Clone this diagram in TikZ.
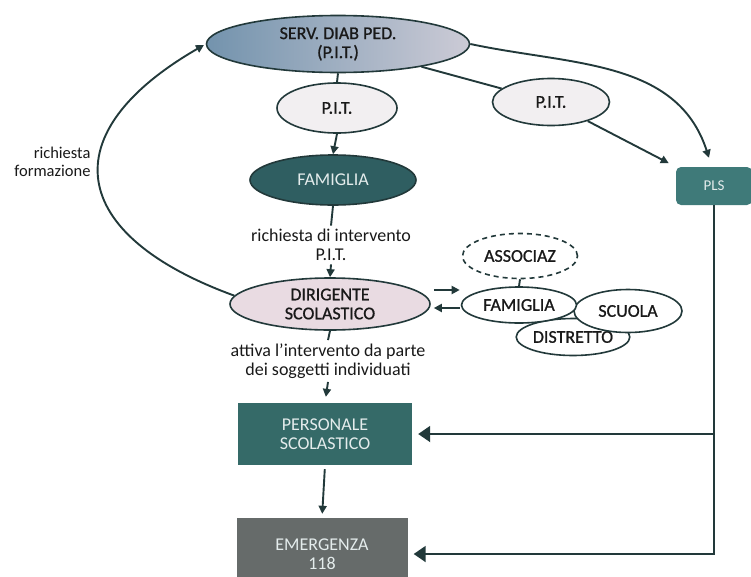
\documentclass[tikz,border=0pt]{standalone}
\usepackage{fontspec}
\setmainfont{Carlito}
\newfontfamily\heavy{Carlito}[FakeBold=0.9]
\usetikzlibrary{shapes.geometric,arrows.meta}

\definecolor{linecol}{HTML}{22393A}
\definecolor{servleft}{HTML}{7393AD}
\definecolor{servright}{HTML}{CCCBD6}
\definecolor{pitfill}{HTML}{F2EFF1}
\definecolor{famfill}{HTML}{2F5E61}
\definecolor{dirfill}{HTML}{E9DBE2}
\definecolor{persfill}{HTML}{356A68}
\definecolor{emerfill}{HTML}{666B6A}
\definecolor{plsfill}{HTML}{3F7A79}
\definecolor{boxtext}{HTML}{E4ECEC}

\begin{document}
\begin{tikzpicture}[x=1pt,y=-1pt,>={Triangle[length=8pt,width=8pt]},
  every node/.style={font=\fontsize{18}{19}\selectfont, align=center, text=black!90},
  oval/.style={ellipse, draw=linecol, line width=1.6pt, inner sep=0pt, font=\fontsize{18}{19}\selectfont\heavy},
  box/.style={rectangle, inner sep=0pt, text=boxtext},
  link/.style={draw=linecol, line width=1.9pt},
  bigtip/.style={-{Triangle[length=12pt,width=16pt]}}]
\useasboundingbox (0,0) rectangle (751,576);

% main column
\node[oval, minimum width=263pt, minimum height=57pt, left color=servleft, right color=servright] (serv) at (338,44) {SERV. DIAB PED.\\(P.I.T.)};
\node[oval, fill=pitfill, minimum width=120pt, minimum height=50pt] (pit1) at (337,108) {P.I.T.};
\node[oval, fill=famfill, text=boxtext, font=\fontsize{18}{19}\selectfont, minimum width=166pt, minimum height=50pt] (fam) at (333,180) {FAMIGLIA};
\node (req) at (331,245) {richiesta di intervento\\P.I.T.};
\node[oval, fill=dirfill, minimum width=200pt, minimum height=52pt] (dir) at (330,304) {DIRIGENTE\\SCOLASTICO};
\node (act) at (328,361) {attiva l’intervento da parte\\dei soggetti individuati};
\node[box, fill=persfill, minimum width=174pt, minimum height=62pt] (pers) at (325,434) {PERSONALE\\SCOLASTICO};
\node[box, fill=emerfill, minimum width=171pt, minimum height=72pt] (emer) at (322,554) {EMERGENZA\\118};

% right side
\node[oval, fill=pitfill, minimum width=117pt, minimum height=47pt] (pit2) at (551,102) {P.I.T.};
\node[box, fill=plsfill, rounded corners=5pt, minimum width=76pt, minimum height=38pt, font=\fontsize{15}{16}\selectfont] (pls) at (714,186) {PLS};

% network
\node[oval, dash pattern=on 5pt off 4pt, minimum width=115pt, minimum height=45pt] (assoc) at (520,256) {ASSOCIAZ};
\node[oval, fill=white, minimum width=113pt, minimum height=37pt] (distr) at (573,337) {DISTRETTO};
\node[oval, fill=white, minimum width=108pt, minimum height=43pt] (scuola) at (628,311) {SCUOLA};
\node[oval, fill=white, minimum width=115pt, minimum height=36pt] (fam2) at (519,305) {FAMIGLIA};

\node[font=\fontsize{16.5}{18}\selectfont, align=right, anchor=east] (form) at (94,162) {richiesta\\formazione};

% links
\draw[link] (serv.south) -- (pit1.north);
\draw[link, ->] (pit1.south) -- (fam.north);
\draw[link] (fam.south) -- (req.north);
\draw[link, ->] (req.south) -- (dir.north);
\draw[link] (dir.south) -- (act.north);
\draw[link, ->, shorten >=6pt] (act.south) -- (pers.north);
\draw[link, ->, shorten <=4pt, shorten >=4pt] (pers.south) -- (emer.north);

\draw[link, ->, shorten >=2pt] (dir.175) to[out=160, in=210, looseness=1.8] (serv.west);
\draw[link] (serv) -- (pit2);
\draw[link, ->, shorten >=8pt] (pit2) -- (pls.north west);
\draw[link, ->] (serv.east) to[out=-12, in=108] ([xshift=-5pt, yshift=9pt]pls.north);

\draw[link, ->, shorten <=3pt] ([yshift=14pt]dir.east) -- ([yshift=14pt, xshift=-1pt]dir.east -| fam2.west);
\draw[link, ->, shorten >=3pt] ([yshift=-3pt, xshift=-1pt]fam2.west) -- ([yshift=-3pt]fam2.west -| dir.east);
\draw[link] (assoc.south) -- (fam2.north);

\draw[link, bigtip, shorten >=6pt] (pls.south) |- (emer.east);
\draw[link, bigtip, shorten >=6pt] (pls.south |- pers.east) -- (pers.east);
\end{tikzpicture}
\end{document}
